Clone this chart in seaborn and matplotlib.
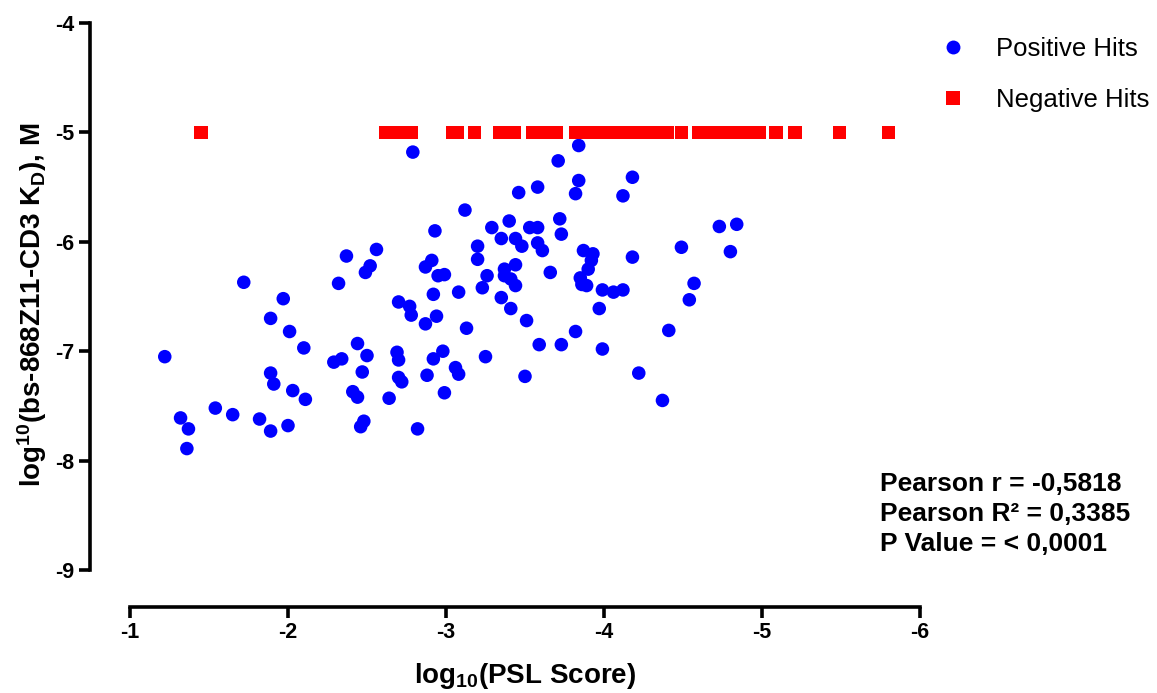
import numpy as np
import pandas as pd
import matplotlib
matplotlib.use("Agg")
import matplotlib.pyplot as plt
from matplotlib.lines import Line2D
import seaborn as sns

# log10(PSL score) and log10(KD) for binders (positive hits)
pos_x = [-1.22, -1.32, -1.37, -1.36, -1.54, -1.65, -1.72, -1.82, -1.89, -2.00,
         -1.89, -1.91, -2.03, -2.11, -1.89, -2.01, -2.10, -1.97, -2.29, -2.34,
         -2.32, -2.37, -2.56, -2.52, -2.49, -2.41, -2.44, -2.44, -2.50, -2.47,
         -2.48, -2.46, -2.64, -2.69, -2.70, -2.70, -2.72, -2.70, -2.77, -2.78,
         -2.87, -2.94, -2.79, -2.82, -2.88, -2.92, -2.98, -2.99, -2.93, -2.91,
         -2.87, -2.95, -2.99, -2.92, -3.08, -3.12, -3.20, -3.20, -3.26, -3.23,
         -3.13, -3.06, -3.08, -3.25, -3.29, -3.35, -3.40, -3.44, -3.48, -3.46,
         -3.58, -3.53, -3.58, -3.58, -3.61, -3.44, -3.37, -3.37, -3.41, -3.44,
         -3.35, -3.41, -3.51, -3.59, -3.50, -3.66, -3.84, -3.71, -3.84, -3.82,
         -4.18, -4.12, -3.72, -3.73, -3.87, -3.93, -3.92, -4.18, -3.90, -3.85,
         -3.86, -3.89, -3.99, -4.06, -4.12, -3.97, -3.82, -3.73, -3.99, -4.22,
         -4.37, -4.41, -4.49, -4.57, -4.54, -4.73, -4.84, -4.80]
pos_y = [-7.05, -7.61, -7.71, -7.89, -7.52, -7.58, -6.37, -7.62, -7.73, -7.68,
         -7.20, -7.30, -7.36, -7.44, -6.70, -6.82, -6.97, -6.52, -7.10, -7.07,
         -6.38, -6.13, -6.07, -6.22, -6.28, -7.37, -7.42, -6.93, -7.04, -7.19,
         -7.64, -7.69, -7.43, -7.01, -7.08, -7.24, -7.28, -6.55, -6.59, -6.67,
         -6.75, -6.68, -5.18, -7.71, -7.22, -7.07, -7.00, -7.38, -5.90, -6.17,
         -6.23, -6.31, -6.30, -6.48, -6.46, -5.71, -6.04, -6.16, -6.31, -6.42,
         -6.79, -7.15, -7.21, -7.05, -5.87, -5.97, -5.81, -5.97, -6.04, -5.55,
         -5.50, -5.87, -5.87, -6.01, -6.08, -6.21, -6.25, -6.31, -6.34, -6.40,
         -6.51, -6.61, -6.72, -6.94, -7.23, -6.28, -5.12, -5.26, -5.44, -5.56,
         -5.41, -5.58, -5.79, -5.93, -6.08, -6.11, -6.17, -6.14, -6.25, -6.33,
         -6.39, -6.40, -6.44, -6.46, -6.44, -6.61, -6.82, -6.94, -6.98, -7.20,
         -7.45, -6.81, -6.05, -6.38, -6.53, -5.86, -5.84, -6.09]

# non-binders (negative hits), all assigned the detection floor of -5
neg_x = [-1.45, -2.62, -2.67, -2.71, -2.78, -3.04, -3.07, -3.18, -3.34, -3.39,
         -3.43, -3.55, -3.60, -3.64, -3.70, -3.82, -3.86, -3.91, -3.96, -4.01,
         -4.06, -4.11, -4.17, -4.22, -4.27, -4.32, -4.37, -4.40, -4.49, -4.60,
         -4.66, -4.71, -4.77, -4.83, -4.91, -4.98, -5.09, -5.21, -5.49, -5.80]
neg_y = [-5.0] * len(neg_x)

groups = ["Positive Hits", "Negative Hits"]
stats_lines = ["Pearson r = -0,5818", "Pearson R\u00b2 = 0,3385", "P Value = < 0,0001"]

df = pd.DataFrame({
    "psl": pos_x + neg_x,
    "kd": pos_y + neg_y,
    "group": [groups[0]] * len(pos_x) + [groups[1]] * len(neg_x),
})

sns.set_theme(style="ticks")
plt.rcParams["font.family"] = ["Liberation Sans", "DejaVu Sans"]
plt.rcParams["mathtext.fontset"] = "custom"
plt.rcParams["mathtext.rm"] = "Liberation Sans:bold"
plt.rcParams["mathtext.it"] = "Liberation Sans:bold"
plt.rcParams["mathtext.bf"] = "Liberation Sans:bold"
for key in ("text.color", "axes.labelcolor", "xtick.color", "ytick.color"):
    plt.rcParams[key] = "black"

W, H = 1157, 693
fig = plt.figure(figsize=(W / 100, H / 100), dpi=100)
# axes box in pixels: left 90, right 920, top 23, bottom 607
ax = fig.add_axes([90 / W, (H - 607) / H, (920 - 90) / W, (607 - 23) / H])

palette = {groups[0]: "#0000ff", groups[1]: "#ff0000"}
markers = {groups[0]: "o", groups[1]: "s"}
sns.scatterplot(data=df, x="psl", y="kd", hue="group", style="group",
                palette=palette, markers=markers, s=95, linewidth=0,
                legend=False, ax=ax, clip_on=False, zorder=3)

# x axis runs from -1 (left) to -6 (right); y axis from -9 up to -4
x_pad = 40 / 158.0
ax.set_xlim(-1 + x_pad, -6)
ax.set_ylim(-4 - (607 - 23) / 109.4, -4)
ax.set_xticks([-1, -2, -3, -4, -5, -6])
ax.set_yticks([-9, -8, -7, -6, -5, -4])
ax.set_xticklabels(["-1", "-2", "-3", "-4", "-5", "-6"])
ax.set_yticklabels(["-9", "-8", "-7", "-6", "-5", "-4"])

for side in ("top", "right"):
    ax.spines[side].set_visible(False)
ax.spines["left"].set_bounds(-9, -4)
ax.spines["bottom"].set_bounds(-1, -6)
for side in ("left", "bottom"):
    ax.spines[side].set_linewidth(2.6)
    ax.spines[side].set_color("black")
ax.tick_params(axis="both", direction="out", length=8, width=2.6, color="black",
               labelsize=15.5, pad=3)
for lab in ax.get_xticklabels() + ax.get_yticklabels():
    lab.set_fontweight("bold")

ax.set_xlabel(r"log$_{10}$(PSL Score)", fontsize=20, fontweight="bold")
ax.set_ylabel(r"log$^{10}$(bs-868Z11-CD3 K$_{D}$), M", fontsize=20,
              fontweight="bold")
ax.xaxis.set_label_coords((525 - 90) / 830, (607 - 661) / 584)
ax.yaxis.set_label_coords((49 - 90) / 830, (607 - 305) / 584)

handles = [
    Line2D([], [], marker="o", linestyle="none", color=palette[groups[0]],
           markersize=10, markeredgewidth=0),
    Line2D([], [], marker="s", linestyle="none", color=palette[groups[1]],
           markersize=10, markeredgewidth=0),
]
fig.legend(handles, groups, loc="upper left",
           bbox_to_anchor=(927 / W, 1 - 27 / H), frameon=False,
           prop={"family": "Liberation Sans", "size": 18.5},
           handletextpad=1.1, labelspacing=1.05, handlelength=1.2,
           borderaxespad=0)

fig.text(880 / W, 1 - 472 / H, "\n".join(stats_lines), ha="left", va="top",
         fontsize=19, fontweight="bold", linespacing=1.31)

fig.savefig("out.png", dpi=100)
